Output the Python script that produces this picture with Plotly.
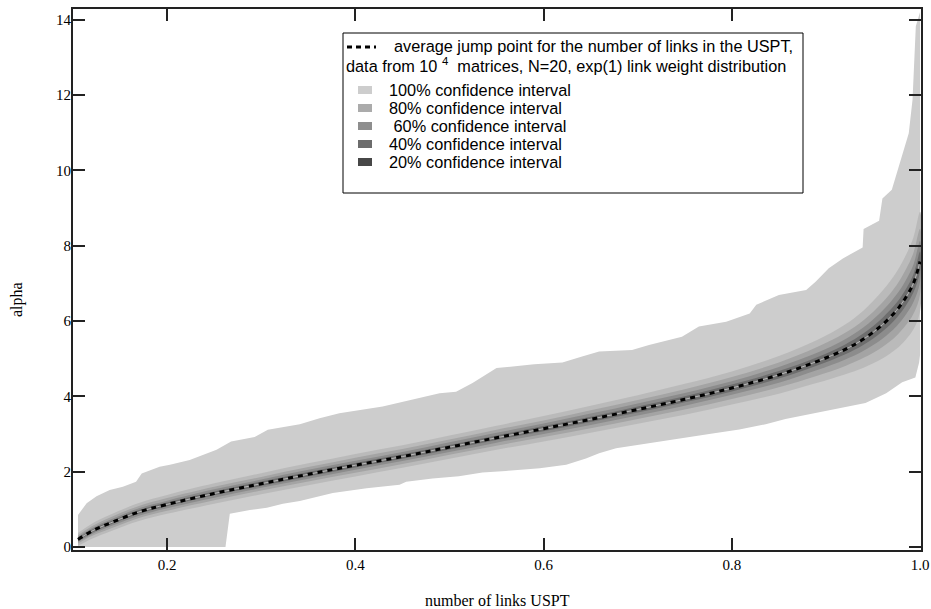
import plotly.graph_objects as go

# jump point of alpha vs. fraction of links in the USPT (N=20)
x_band = [0.1053, 0.12, 0.14, 0.17, 0.20, 0.25, 0.30, 0.35, 0.40, 0.45, 0.50, 0.55, 0.60,
          0.65, 0.70, 0.75, 0.80, 0.85, 0.89, 0.92, 0.94, 0.96, 0.975, 0.985, 0.993, 1.0]
alpha_mean = [0.20, 0.42, 0.64, 0.93, 1.13, 1.42, 1.68, 1.93, 2.17, 2.40, 2.65, 2.90, 3.14,
              3.39, 3.65, 3.92, 4.22, 4.57, 4.92, 5.24, 5.52, 5.90, 6.28, 6.63, 7.00, 7.58]

# half widths of the confidence bands around the mean
hw80 = [0.17, 0.20, 0.22, 0.24, 0.25, 0.27, 0.28, 0.29, 0.30, 0.30, 0.31, 0.32, 0.34,
        0.36, 0.38, 0.41, 0.44, 0.50, 0.57, 0.66, 0.76, 0.90, 1.02, 1.12, 1.22, 1.32]
hw60 = [0.11, 0.13, 0.15, 0.16, 0.17, 0.18, 0.18, 0.19, 0.20, 0.20, 0.20, 0.21, 0.22,
        0.24, 0.25, 0.27, 0.29, 0.33, 0.38, 0.44, 0.50, 0.59, 0.67, 0.74, 0.81, 0.87]
hw40 = [0.07, 0.08, 0.09, 0.10, 0.10, 0.11, 0.11, 0.12, 0.12, 0.12, 0.13, 0.13, 0.14,
        0.15, 0.16, 0.17, 0.18, 0.21, 0.23, 0.27, 0.31, 0.37, 0.42, 0.46, 0.50, 0.54]
hw20 = [0.03, 0.04, 0.04, 0.05, 0.05, 0.05, 0.06, 0.06, 0.06, 0.06, 0.06, 0.06, 0.07,
        0.07, 0.08, 0.08, 0.09, 0.10, 0.11, 0.13, 0.15, 0.18, 0.20, 0.22, 0.24, 0.26]

# 100% interval = min / max over all matrices
x_upper = [0.1053, 0.1145, 0.125, 0.139, 0.153, 0.167, 0.173, 0.182, 0.192, 0.203, 0.224,
           0.2525, 0.268, 0.293, 0.307, 0.341, 0.362, 0.383, 0.429, 0.4895, 0.507, 0.5245,
           0.55, 0.59, 0.62, 0.64, 0.659, 0.694, 0.712, 0.747, 0.765, 0.794, 0.819, 0.826,
           0.85, 0.879, 0.889, 0.903, 0.918, 0.939, 0.940, 0.9565, 0.960, 0.970, 0.988,
           0.992, 0.9955, 1.0]
upper100 = [0.85, 1.16, 1.35, 1.51, 1.60, 1.73, 1.95, 2.04, 2.13, 2.18, 2.31,
            2.58, 2.80, 2.92, 3.11, 3.26, 3.42, 3.55, 3.73, 4.08, 4.12, 4.35,
            4.75, 4.85, 4.90, 5.05, 5.19, 5.23, 5.36, 5.58, 5.85, 5.98, 6.20, 6.43,
            6.69, 6.82, 7.04, 7.40, 7.66, 7.95, 8.44, 8.66, 9.25, 9.48, 10.98,
            11.87, 13.82, 14.20]
x_lower = [0.1053, 0.262, 0.2666, 0.288, 0.306, 0.323, 0.341, 0.376, 0.412, 0.447, 0.454,
           0.482, 0.51, 0.535, 0.56, 0.596, 0.624, 0.645, 0.659, 0.677, 0.712, 0.748, 0.776,
           0.808, 0.836, 0.857, 0.886, 0.907, 0.942, 0.964, 0.981, 0.995, 0.999, 1.0]
lower100 = [0.0, 0.0, 0.88, 0.98, 1.04, 1.15, 1.22, 1.43, 1.56, 1.65, 1.73,
            1.82, 1.88, 1.98, 2.02, 2.09, 2.18, 2.35, 2.49, 2.62, 2.75, 2.89, 3.00,
            3.12, 3.26, 3.40, 3.55, 3.64, 3.82, 4.08, 4.37, 4.50, 4.90, 5.10]

band_names = ["100% confidence interval", "80% confidence interval", " 60% confidence interval",
              "40% confidence interval", "20% confidence interval"]
band_fill = ["#cdcdcd", "#bababa", "#a4a4a4", "#8c8c8c", "#6e6e6e"]
swatch_fill = ["#cdcdcd", "#ababab", "#8e8e8e", "#6c6c6c", "#474747"]

serif = "Liberation Serif, Times New Roman, serif"
sans = "Liberation Sans, Arial, sans-serif"

W, H = 931, 609
L, R, T, B = 73, 921, 9, 550


def px(xp, yp):
    # pixel position -> paper coordinates
    return (xp - L) / (R - L), (B - yp) / (B - T)


fig = go.Figure()

# 100% band
fig.add_trace(go.Scatter(
    x=x_upper + x_lower[::-1], y=upper100 + lower100[::-1],
    fill="toself", fillcolor=band_fill[0], line=dict(width=0),
    mode="lines", hoverinfo="skip", showlegend=False))

for hw, col in zip([hw80, hw60, hw40, hw20], band_fill[1:]):
    up = [m + h for m, h in zip(alpha_mean, hw)]
    lo = [m - h for m, h in zip(alpha_mean, hw)]
    fig.add_trace(go.Scatter(
        x=x_band + x_band[::-1], y=up + lo[::-1],
        fill="toself", fillcolor=col, line=dict(width=0, shape="spline"),
        mode="lines", hoverinfo="skip", showlegend=False))

# thin light core line, then the dashed mean
fig.add_trace(go.Scatter(x=x_band, y=alpha_mean, mode="lines",
                         line=dict(color="#b8b8b8", width=1, shape="spline"),
                         showlegend=False, hoverinfo="skip"))
fig.add_trace(go.Scatter(x=x_band, y=alpha_mean, mode="lines",
                         line=dict(color="black", width=3, dash="5px,5px", shape="spline"),
                         showlegend=False))

# --- hand-made legend box ---
shapes = []
x0, y0 = px(343, 193)
x1, y1 = px(803, 33)
shapes.append(dict(type="rect", xref="paper", yref="paper", x0=x0, y0=y0, x1=x1, y1=y1,
                   line=dict(color="black", width=1), fillcolor="white", layer="above"))
lx0, ly = px(347, 47)
lx1, _ = px(376, 47)
shapes.append(dict(type="line", xref="paper", yref="paper", x0=lx0, y0=ly, x1=lx1, y1=ly,
                   line=dict(color="black", width=3, dash="5px,4px"), layer="above"))

annotations = []
tx, ty = px(392, 46)
annotations.append(dict(xref="paper", yref="paper", x=tx, y=ty, xanchor="left", yanchor="middle",
                        showarrow=False, font=dict(family=sans, size=16.3, color="black"),
                        text="average jump point for the number of links in the USPT,"))
tx, ty = px(344, 65)
annotations.append(dict(xref="paper", yref="paper", x=tx, y=ty, xanchor="left", yanchor="middle",
                        showarrow=False, font=dict(family=sans, size=16.3, color="black"),
                        text="data from 10 <sup>4</sup>  matrices, N=20, exp(1) link weight distribution"))

row_y = [90, 108, 126, 144, 162]
for name, col, ry in zip(band_names, swatch_fill, row_y):
    sx0, sy0 = px(358, ry + 4)
    sx1, sy1 = px(372, ry - 4)
    shapes.append(dict(type="rect", xref="paper", yref="paper", x0=sx0, y0=sy0, x1=sx1, y1=sy1,
                       line=dict(width=0), fillcolor=col, layer="above"))
    tx, ty = px(387, ry)
    annotations.append(dict(xref="paper", yref="paper", x=tx, y=ty, xanchor="left", yanchor="middle",
                            showarrow=False, font=dict(family=sans, size=16.3, color="black"),
                            text=name))

# axis titles
ax, ay = px(17, 300)
annotations.append(dict(xref="paper", yref="paper", x=ax, y=ay, xanchor="center", yanchor="middle",
                        showarrow=False, textangle=-90, font=dict(family=serif, size=16, color="black"),
                        text="alpha"))
ax, ay = px(497, 600)
annotations.append(dict(xref="paper", yref="paper", x=ax, y=ay, xanchor="center", yanchor="middle",
                        showarrow=False, font=dict(family=serif, size=16, color="black"),
                        text="number of links USPT"))

axis_style = dict(showline=True, linecolor="#222222", linewidth=2, mirror="ticks",
                  ticks="inside", ticklen=12, tickwidth=1.5, tickcolor="#222222",
                  showgrid=False, zeroline=False,
                  tickfont=dict(family=serif, size=15, color="black"))

fig.update_layout(
    width=W, height=H,
    margin=dict(l=L, r=W - R, t=T, b=H - B, autoexpand=False),
    plot_bgcolor="white", paper_bgcolor="white",
    shapes=shapes, annotations=annotations,
    showlegend=False,
    xaxis=dict(range=[0.1, 1.001], tickvals=[0.2, 0.4, 0.6, 0.8, 1.0], tickformat=".1f",
               **axis_style),
    yaxis=dict(range=[-0.08, 14.28], tickvals=[0, 2, 4, 6, 8, 10, 12, 14],
               ticklabelstandoff=-3, **axis_style),
)

fig.write_html("out.html", config={"displayModeBar": False},
               post_script="document.body.style.margin='0';")
